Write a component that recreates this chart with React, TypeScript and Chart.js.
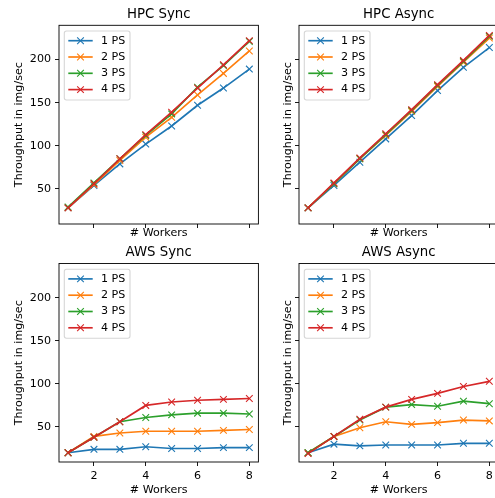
import React, { useEffect, useRef } from 'react';
import { Chart, registerables } from 'chart.js';

Chart.register(...registerables);

// ---------- data ----------
const workers = [1, 2, 3, 4, 5, 6, 7, 8];
const seriesLabels = ['1 PS', '2 PS', '3 PS', '4 PS'];
const seriesColors = ['#1f77b4', '#ff7f0e', '#2ca02c', '#d62728'];
const xTickValues = [2, 4, 6, 8];
const yTickValues = [50, 100, 150, 200];
const panelTitles = ['HPC Sync', 'HPC Async', 'AWS Sync', 'AWS Async'];
const xAxisTitle = '# Workers';
const yAxisTitle = 'Throughput in img/sec';

const hpcSync1PS = [28, 54, 79, 102, 123, 147, 167, 189];
const hpcSync2PS = [28, 55, 83, 110, 133, 159, 184, 210];
const hpcSync3PS = [29, 57, 85, 112, 137, 168, 193, 221];
const hpcSync4PS = [28, 56, 85, 113, 139, 167, 194, 222];

const hpcAsync1PS = [28, 54, 81, 108, 135, 164, 191, 214];
const hpcAsync2PS = [28, 56, 85, 112, 140, 169, 197, 225];
const hpcAsync3PS = [28, 56, 85, 113, 141, 170, 198, 227];
const hpcAsync4PS = [28, 57, 86, 114, 142, 171, 199, 228];

const awsSync1PS = [20, 24, 24, 27, 25, 25, 26, 26];
const awsSync2PS = [20, 39, 43, 45, 45, 45, 46, 47];
const awsSync3PS = [20, 38, 56, 61, 64, 66, 66, 65];
const awsSync4PS = [20, 38, 56, 75, 79, 81, 82, 83];

const awsAsync1PS = [20, 30, 28, 29, 29, 29, 31, 31];
const awsAsync2PS = [20, 39, 49, 56, 53, 55, 58, 57];
const awsAsync3PS = [20, 39, 58, 73, 76, 74, 80, 77];
const awsAsync4PS = [19, 39, 59, 73, 82, 89, 97, 103];

const panelSeries = [
  [hpcSync1PS, hpcSync2PS, hpcSync3PS, hpcSync4PS],
  [hpcAsync1PS, hpcAsync2PS, hpcAsync3PS, hpcAsync4PS],
  [awsSync1PS, awsSync2PS, awsSync3PS, awsSync4PS],
  [awsAsync1PS, awsAsync2PS, awsAsync3PS, awsAsync4PS],
];

const X_MIN = 0.65;
const X_MAX = 8.35;
const Y_MIN = 9.3;
const Y_MAX = 239.8;

// ---------- layout / style ----------
const FONT = 'DejaVu Sans';
const TICK_FS = 11.1;
const TITLE_FS = 13.3;
const CW = 520;
const CH = 498;

const geoms = [
  { L: 59, R: 258.4, T: 25.3, B: 224, yTitleX: 18.8, xTitleY: 232.8, titleY: 14.2, showX: false, showY: true },
  { L: 299, R: 498.4, T: 25.3, B: 224, yTitleX: 287.8, xTitleY: 232.8, titleY: 14.2, showX: false, showY: false },
  { L: 59, R: 258.4, T: 263.5, B: 462, yTitleX: 18.8, xTitleY: 490, titleY: 252.8, showX: true, showY: true },
  { L: 299, R: 498.4, T: 263.5, B: 462, yTitleX: 287.8, xTitleY: 490, titleY: 252.8, showX: true, showY: false },
];

function drawCross(ctx: CanvasRenderingContext2D, x: number, y: number, h: number) {
  ctx.beginPath();
  ctx.moveTo(x - h, y - h);
  ctx.lineTo(x + h, y + h);
  ctx.moveTo(x - h, y + h);
  ctx.lineTo(x + h, y - h);
  ctx.stroke();
}

const frameLegendPlugin = {
  id: 'frameLegend',
  afterDraw(chart: any) {
    const { ctx, chartArea: a } = chart;
    ctx.save();
    // frame (all four spines)
    ctx.strokeStyle = '#000';
    ctx.lineWidth = 0.9;
    ctx.strokeRect(a.left, a.top, a.right - a.left, a.bottom - a.top);

    // legend box
    const x0 = a.left + 5.3;
    const y0 = a.top + 5.7;
    const w = 65.7;
    const h = 69;
    const r = 2.2;
    ctx.beginPath();
    ctx.moveTo(x0 + r, y0);
    ctx.lineTo(x0 + w - r, y0);
    ctx.arcTo(x0 + w, y0, x0 + w, y0 + r, r);
    ctx.lineTo(x0 + w, y0 + h - r);
    ctx.arcTo(x0 + w, y0 + h, x0 + w - r, y0 + h, r);
    ctx.lineTo(x0 + r, y0 + h);
    ctx.arcTo(x0, y0 + h, x0, y0 + h - r, r);
    ctx.lineTo(x0, y0 + r);
    ctx.arcTo(x0, y0, x0 + r, y0, r);
    ctx.closePath();
    ctx.fillStyle = 'rgba(255,255,255,0.8)';
    ctx.fill();
    ctx.strokeStyle = 'rgba(204,204,204,0.8)';
    ctx.lineWidth = 1.1;
    ctx.stroke();

    const ds = chart.data.datasets;
    ds.forEach((d: any, i: number) => {
      const cy = a.top + 15.4 + i * 16.3;
      ctx.strokeStyle = d.borderColor;
      ctx.lineWidth = 1.67;
      ctx.beginPath();
      ctx.moveTo(a.left + 9.3, cy);
      ctx.lineTo(a.left + 33.7, cy);
      ctx.stroke();
      ctx.lineWidth = 1.1;
      drawCross(ctx, a.left + 21.5, cy, 3.33);
      ctx.fillStyle = '#000';
      ctx.font = `${TICK_FS}px "${FONT}"`;
      ctx.textAlign = 'left';
      ctx.textBaseline = 'middle';
      ctx.fillText(d.label, a.left + 42, cy);
    });
    ctx.restore();
  },
};

function Panel({ index }: { index: number }) {
  const ref = useRef<HTMLCanvasElement | null>(null);
  useEffect(() => {
    const g = geoms[index];
    const PL = g.yTitleX - TICK_FS / 2;
    const HX = g.xTitleY + TICK_FS / 2 - g.B;
    const PB = CH - (g.B + HX);
    const PT = g.titleY - TITLE_FS / 2;
    const titlePadBottom = g.T - PT - TITLE_FS;
    const YW = g.L - PL;

    const datasets = panelSeries[index].map((vals, i) => ({
      label: seriesLabels[i],
      data: workers.map((x, k) => ({ x, y: vals[k] })),
      borderColor: seriesColors[i],
      backgroundColor: seriesColors[i],
      pointBorderColor: seriesColors[i],
      pointBackgroundColor: seriesColors[i],
      borderWidth: 1.67,
      pointStyle: 'crossRot',
      pointRadius: 4.72,
      pointBorderWidth: 1.1,
      tension: 0,
      fill: false,
      order: 4 - i,
    }));

    const chart = new Chart(ref.current as HTMLCanvasElement, {
      type: 'line',
      data: { datasets },
      plugins: [frameLegendPlugin],
      options: {
        animation: false,
        responsive: false,
        events: [],
        layout: { padding: { left: PL, right: CW - g.R, top: PT, bottom: PB } },
        scales: {
          x: {
            type: 'linear',
            min: X_MIN,
            max: X_MAX,
            afterBuildTicks: (s: any) => {
              s.ticks = xTickValues.map((v) => ({ value: v }));
            },
            afterFit: (s: any) => {
              s.height = HX;
            },
            grid: { drawOnChartArea: false, drawTicks: true, tickLength: 4, tickColor: '#000', tickWidth: 0.9 },
            border: { display: false },
            ticks: { display: g.showX, padding: 3, color: '#000', font: { size: TICK_FS, family: FONT } },
            title: {
              display: true,
              text: xAxisTitle,
              color: '#000',
              font: { size: TICK_FS, family: FONT, lineHeight: 1 },
              padding: 0,
            },
          },
          y: {
            type: 'linear',
            min: Y_MIN,
            max: Y_MAX,
            afterBuildTicks: (s: any) => {
              s.ticks = yTickValues.map((v) => ({ value: v }));
            },
            afterFit: (s: any) => {
              s.width = YW;
            },
            grid: { drawOnChartArea: false, drawTicks: true, tickLength: 4, tickColor: '#000', tickWidth: 0.9 },
            border: { display: false },
            ticks: { display: g.showY, padding: 4, color: '#000', font: { size: TICK_FS, family: FONT } },
            title: {
              display: true,
              text: yAxisTitle,
              color: '#000',
              font: { size: TICK_FS, family: FONT, lineHeight: 1 },
              padding: 0,
            },
          },
        },
        plugins: {
          legend: { display: false },
          tooltip: { enabled: false },
          title: {
            display: true,
            text: panelTitles[index],
            fullSize: false,
            color: '#000',
            font: { size: TITLE_FS, family: FONT, weight: 'normal', lineHeight: 1 },
            padding: { top: 0, bottom: titlePadBottom },
          },
        },
      } as any,
    });
    return () => chart.destroy();
  }, [index]);

  return (
    <canvas
      ref={ref}
      width={CW}
      height={CH}
      style={{ position: 'absolute', left: 0, top: 0, width: CW, height: CH }}
    />
  );
}

export default function App() {
  return (
    <div
      style={{
        position: 'fixed',
        left: 0,
        top: 0,
        width: 495,
        height: 498,
        overflow: 'hidden',
        background: '#fff',
      }}
    >
      {[0, 1, 2, 3].map((i) => (
        <Panel key={i} index={i} />
      ))}
    </div>
  );
}
